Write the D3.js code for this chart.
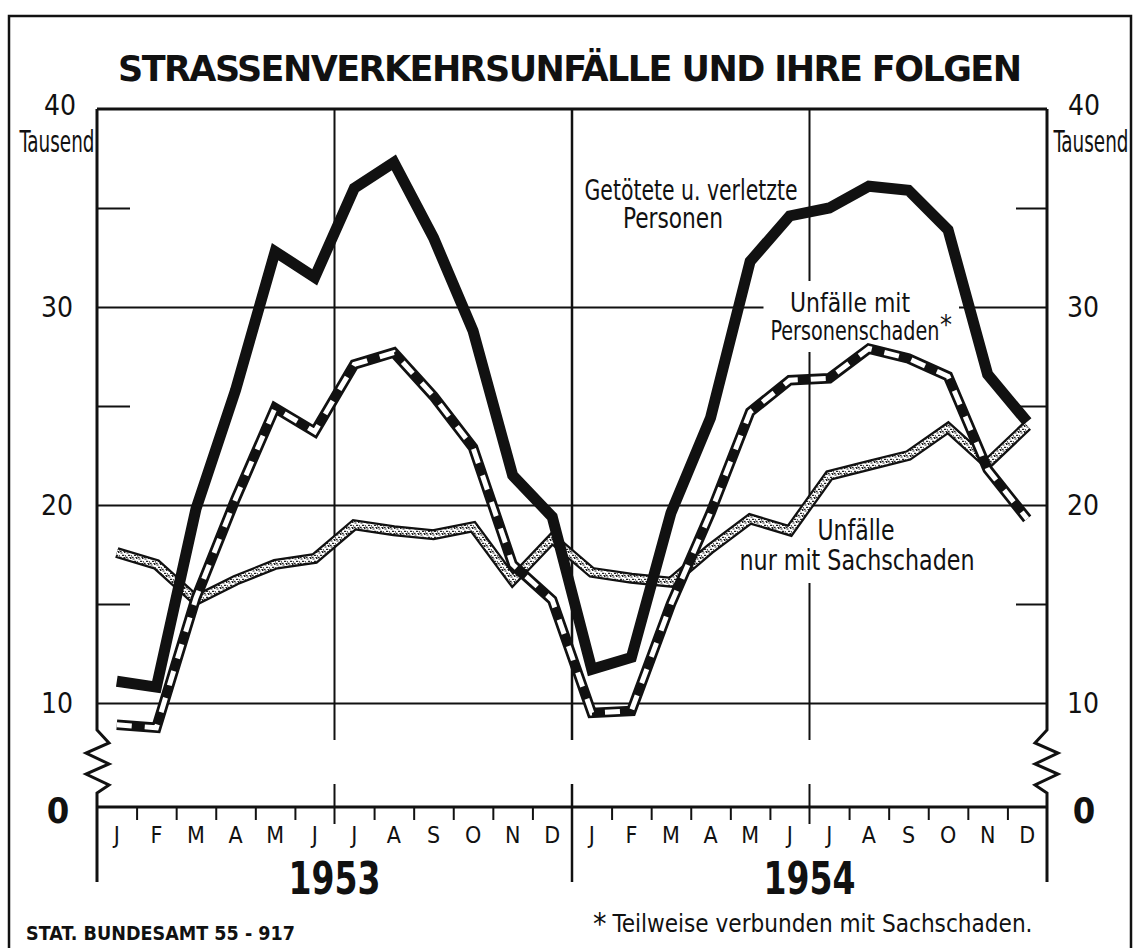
<!DOCTYPE html>
<html>
<head>
<meta charset="utf-8">
<script src="https://cdn.jsdelivr.net/npm/d3@7"></script>
<style>
  body { margin: 0; background: #fff; }
  text { font-family: "DejaVu Sans Condensed", "Liberation Sans Narrow", sans-serif; fill: #111; }
</style>
</head>
<body>
<script>
// months of each year, years on the x axis
var months = ["J", "F", "M", "A", "M", "J", "J", "A", "S", "O", "N", "D"];
var years = ["1953", "1954"];
// labelled y values (Tausend) and short ticks
var yLabels = [10, 20, 30, 40];
var yMinor = [15, 25, 35];

// Tausend, Jan 1953 .. Dez 1954
var getoetet = [11.1, 10.8, 19.8, 25.8, 32.8, 31.5, 36.0, 37.3, 33.5, 28.8, 21.5, 19.4,
                11.7, 12.3, 19.6, 24.4, 32.3, 34.6, 35.0, 36.1, 35.9, 33.9, 26.6, 24.2];
var personen = [8.9, 8.75, 15.3, 20.3, 24.9, 23.7, 27.1, 27.7, 25.5, 22.9, 17.0, 15.2,
                9.5, 9.6, 15.0, 19.6, 24.7, 26.3, 26.4, 27.9, 27.4, 26.5, 21.8, 19.3];
var sach = [17.6, 17.0, 15.2, 16.2, 17.0, 17.3, 19.0, 18.7, 18.5, 18.9, 16.2, 18.3,
            16.6, 16.3, 16.1, 17.8, 19.3, 18.7, 21.5, 22.0, 22.5, 23.9, 22.1, 24.0];

var W = 1133, H = 948;
var ink = "#111";
var plotL = 97, plotR = 1047, plotT = 109, zeroY = 807;

var svg = d3.select("body").append("svg")
    .attr("width", W).attr("height", H);

var keys = [];
years.forEach(function (yr) {
  months.forEach(function (m, i) { keys.push(yr + "-" + i); });
});

var x = d3.scaleBand().domain(keys).range([plotL, plotR]);
var xm = d3.scaleLinear().domain([0, keys.length]).range([plotL, plotR]);
var y = d3.scaleLinear().domain([10, 40]).range([703, plotT]);
function xc(i) { return x(keys[i]) + x.bandwidth() / 2; }

// stipple texture for the Sachschaden line
var defs = svg.append("defs");
var pat = defs.append("pattern").attr("id", "stip")
    .attr("width", 6).attr("height", 6).attr("patternUnits", "userSpaceOnUse");
pat.append("rect").attr("width", 6).attr("height", 6).attr("fill", "#fff");
pat.append("path")
    .attr("d", "M0.5,1h2M4,0.5h1.5M2,3.3h2.2M5,3.8h1M0,5.4h1.6M3.4,5.7h2")
    .attr("stroke", "#222").attr("stroke-width", 1.2);

// frame
svg.append("path")
    .attr("d", "M9," + H + "V16H1131V" + H)
    .attr("fill", "none").attr("stroke", ink).attr("stroke-width", 2.5);

// title
svg.append("text")
    .attr("x", 118).attr("y", 81)
    .attr("textLength", 904).attr("lengthAdjust", "spacing")
    .style("font-family", "'DejaVu Sans', sans-serif")
    .style("font-weight", "bold").style("font-size", "35px")
    .text("STRASSENVERKEHRSUNFÄLLE UND IHRE FOLGEN");

// horizontal grid 10/20/30
var grid = svg.append("g")
    .attr("transform", "translate(" + plotL + ",0)")
    .call(d3.axisLeft(y).tickValues([10, 20, 30]).tickSize(-(plotR - plotL)).tickFormat(""));
grid.select(".domain").remove();
grid.selectAll("line").attr("stroke", ink).attr("stroke-width", 2);

// top line at 40
svg.append("line")
    .attr("x1", plotL).attr("x2", plotR).attr("y1", y(40)).attr("y2", y(40))
    .attr("stroke", ink).attr("stroke-width", 3);

// short ticks at 15/25/35 on both sides
var tl = svg.append("g").attr("transform", "translate(" + plotL + ",0)")
    .call(d3.axisRight(y).tickValues(yMinor).tickSize(33).tickFormat(""));
var tr = svg.append("g").attr("transform", "translate(" + plotR + ",0)")
    .call(d3.axisLeft(y).tickValues(yMinor).tickSize(31).tickFormat(""));
[tl, tr].forEach(function (g) {
  g.select(".domain").remove();
  g.selectAll("line").attr("stroke", ink).attr("stroke-width", 2);
});

// vertical lines: year borders and mid-year
var breakTop = 740, breakBot = 784;
[6, 12, 18].forEach(function (m) {
  svg.append("line")
      .attr("x1", xm(m)).attr("x2", xm(m)).attr("y1", plotT).attr("y2", breakTop)
      .attr("stroke", ink).attr("stroke-width", m === 12 ? 2.5 : 2);
  svg.append("line")
      .attr("x1", xm(m)).attr("x2", xm(m)).attr("y1", breakBot).attr("y2", m === 12 ? 882 : 824)
      .attr("stroke", ink).attr("stroke-width", m === 12 ? 2.5 : 2);
});

// left and right axes with the zigzag break
function axisPath(xa, dir) {
  var pts = [[xa, plotT], [xa, 730], [xa + dir * 12, 743], [xa - dir * 11, 753],
             [xa + dir * 12, 764], [xa - dir * 11, 774], [xa + dir * 12, 785],
             [xa, 793], [xa, 882]];
  return d3.line()(pts);
}
svg.append("path").attr("d", axisPath(plotL, 1))
    .attr("fill", "none").attr("stroke", ink).attr("stroke-width", 3);
svg.append("path").attr("d", axisPath(plotR, -1))
    .attr("fill", "none").attr("stroke", ink).attr("stroke-width", 3);

// zero line
svg.append("line")
    .attr("x1", plotL).attr("x2", plotR).attr("y1", zeroY).attr("y2", zeroY)
    .attr("stroke", ink).attr("stroke-width", 3);

// month ticks between months
var mt = svg.append("g").attr("transform", "translate(0," + zeroY + ")")
    .call(d3.axisBottom(xm)
      .tickValues(d3.range(1, keys.length).filter(function (m) { return m % 6 !== 0; }))
      .tickSize(13).tickFormat(""));
mt.select(".domain").remove();
mt.selectAll("line").attr("stroke", ink).attr("stroke-width", 2);

// month letters
var ml = svg.append("g").attr("transform", "translate(0,815)")
    .call(d3.axisBottom(x).tickSize(0).tickPadding(0)
      .tickFormat(function (k) { return months[+k.split("-")[1]]; }));
ml.select(".domain").remove();
ml.selectAll("text")
    .attr("dy", null).attr("y", 28)
    .style("font-size", "23px").style("font-family", null).attr("fill", ink);

// years
years.forEach(function (yr, i) {
  svg.append("text")
      .attr("x", xm(i * 12 + 6)).attr("y", 894)
      .attr("text-anchor", "middle")
      .attr("textLength", 92).attr("lengthAdjust", "spacingAndGlyphs")
      .style("font-weight", "bold").style("font-size", "44px")
      .text(yr);
});

// y labels, both sides
[[57, 60, 57], [1083, 1084, 1091]].forEach(function (p) {
  yLabels.forEach(function (v) {
    svg.append("text")
        .attr("x", v === 40 ? p[1] : p[0])
        .attr("y", v === 40 ? 115 : y(v) + 10)
        .attr("text-anchor", "middle")
        .style("font-size", "28px")
        .text(v);
  });
  svg.append("text")
      .attr("x", p[2]).attr("y", 152)
      .attr("text-anchor", "middle")
      .attr("textLength", 75).attr("lengthAdjust", "spacingAndGlyphs")
      .style("font-size", "30px")
      .text("Tausend");
  svg.append("text")
      .attr("x", p[0] + 1).attr("y", 823)
      .attr("text-anchor", "middle")
      .style("font-size", "36px").style("font-weight", "bold")
      .text("0");
});

// series labels (knocked out of the grid where needed)
var labelLayer = svg.append("g");
var labels = [
  { knock: false, size: 28, rows: [
      { t: "Getötete u. verletzte", cx: 691, by: 200, w: 213 },
      { t: "Personen", cx: 673, by: 228, w: 100 }] },
  { knock: true, size: 27, rows: [
      { t: "Unfälle mit", cx: 850, by: 312, w: 120 },
      { t: "Personenschaden", cx: 855, by: 340, w: 169 },
      { t: "*", cx: 946, by: 334, w: 12 }] },
  { knock: true, size: 28, rows: [
      { t: "Unfälle", cx: 856, by: 540, w: 77 },
      { t: "nur mit Sachschaden", cx: 857, by: 570, w: 235 }] }
];
labels.forEach(function (lb) {
  var g = labelLayer.append("g");
  lb.rows.forEach(function (r) {
    g.append("text")
        .attr("x", r.cx).attr("y", r.by)
        .attr("text-anchor", "middle")
        .attr("textLength", r.w).attr("lengthAdjust", "spacingAndGlyphs")
        .style("font-size", lb.size + "px")
        .text(r.t);
  });
  if (lb.knock) {
    var b = g.node().getBBox();
    g.insert("rect", ":first-child")
        .attr("x", b.x - 7).attr("y", b.y - 6)
        .attr("width", b.width + 14).attr("height", b.height + 12)
        .attr("fill", "#fff");
  }
});

// series lines
var line = d3.line()
    .x(function (d, i) { return xc(i); })
    .y(function (d) { return y(d); });

var lines = svg.append("g").attr("fill", "none")
    .attr("stroke-linejoin", "miter").attr("stroke-miterlimit", 3);

// Sachschaden: outlined band with stipple
lines.append("path").datum(sach).attr("d", line)
    .attr("stroke", ink).attr("stroke-width", 11);
lines.append("path").datum(sach).attr("d", line)
    .attr("stroke", "url(#stip)").attr("stroke-width", 6.5);

// Personenschaden: outlined band with black/white dashes
lines.append("path").datum(personen).attr("d", line)
    .attr("stroke", ink).attr("stroke-width", 10.5);
lines.append("path").datum(personen).attr("d", line)
    .attr("stroke", "#fff").attr("stroke-width", 5)
    .attr("stroke-dasharray", "15 13");

// Getoetete u. verletzte: heavy solid
lines.append("path").datum(getoetet).attr("d", line)
    .attr("stroke", ink).attr("stroke-width", 11);

// footer
svg.append("text")
    .attr("x", 26).attr("y", 940)
    .attr("textLength", 269).attr("lengthAdjust", "spacingAndGlyphs")
    .style("font-family", "'DejaVu Sans', sans-serif")
    .style("font-weight", "bold").style("font-size", "20px")
    .text("STAT. BUNDESAMT 55 - 917");

var fn = svg.append("text")
    .attr("x", 593).attr("y", 932)
    .style("font-size", "25px");
fn.append("tspan").style("font-size", "30px").attr("dy", 2).text("*");
fn.append("tspan").attr("dy", -2).attr("dx", 6)
    .attr("textLength", 420).attr("lengthAdjust", "spacingAndGlyphs")
    .text("Teilweise verbunden mit Sachschaden.");
</script>
</body>
</html>
